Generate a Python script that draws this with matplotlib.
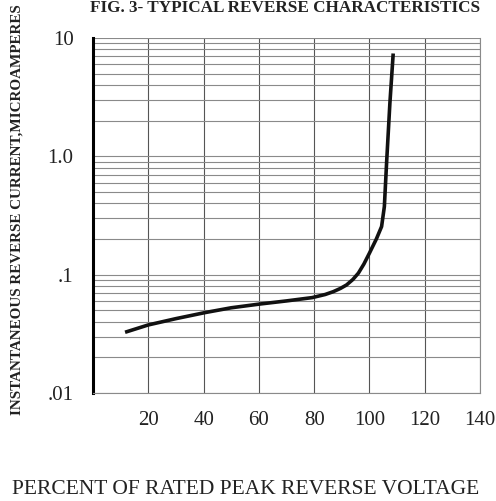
import numpy as np
import matplotlib
matplotlib.use('Agg')
import matplotlib.pyplot as plt
from matplotlib.ticker import LogLocator, NullFormatter

# Dados (percentual da tensão reversa x corrente em µA)
percent = [11.6, 20, 30, 40.5, 50, 60.4, 70, 79.3, 84, 86.9, 89.5, 91.7, 94, 96,
           98, 100, 102.5, 104.4, 105.4, 106.2, 107.4, 108.6]
current = [0.0326, 0.0376, 0.0425, 0.0478, 0.0525, 0.0565, 0.060, 0.064, 0.068,
           0.0718, 0.0765, 0.0818, 0.091, 0.103, 0.123, 0.152, 0.200, 0.255,
           0.376, 0.875, 2.81, 7.4]

x_ticks = [20, 40, 60, 80, 100, 120, 140]
y_ticks = [0.01, 0.1, 1.0, 10]
y_labels = ['.01', '.1', '1.0', '10']

plt.rcParams['font.family'] = ['Liberation Serif', 'DejaVu Serif']

fig = plt.figure(figsize=(4.96, 5.01), dpi=100)
ax = fig.add_axes([93 / 496, 1 - 393 / 501, 387 / 496, 355 / 501])

ax.set_yscale('log')
ax.set_xlim(0, 140)
ax.set_ylim(0.01, 10)

# Grade: linhas menores horizontais e verticais a cada 20
ax.yaxis.set_minor_locator(LogLocator(base=10, subs=np.arange(2, 10)))
ax.yaxis.set_minor_formatter(NullFormatter())
ax.grid(True, which='both', axis='y', color='#8a8a8a', linewidth=0.8)
ax.grid(True, which='major', axis='x', color='#555555', linewidth=0.8)

ax.set_xticks(x_ticks)
ax.set_xticklabels([str(t) for t in x_ticks])
ax.set_yticks(y_ticks)
ax.set_yticklabels(y_labels)
ax.tick_params(which='both', length=0, labelsize=15, colors='#222222')
ax.tick_params(axis='x', pad=13)
ax.tick_params(axis='y', pad=14)

ax.spines['top'].set_visible(False)
ax.spines['right'].set_color('#8a8a8a')
ax.spines['right'].set_linewidth(0.8)
ax.spines['bottom'].set_color('#8a8a8a')
ax.spines['bottom'].set_linewidth(0.8)
ax.spines['left'].set_color('black')
ax.spines['left'].set_linewidth(2.2)

ax.plot(percent, current, color='#111111', linewidth=2.6, solid_capstyle='butt')

fig.text(285 / 496, 1 - 12 / 501, 'FIG. 3- TYPICAL REVERSE CHARACTERISTICS',
         ha='center', va='baseline', fontsize=12.3, fontweight='bold', color='#222222')
fig.text(17 / 496, 1 - 415 / 501, 'INSTANTANEOUS REVERSE CURRENT,MICROAMPERES',
         rotation=90, ha='center', va='bottom', fontsize=10.9, fontweight='bold',
         color='#222222')
fig.text(12 / 496, 1 - 494 / 501, 'PERCENT OF RATED PEAK REVERSE VOLTAGE',
         ha='left', va='baseline', fontsize=15.5, color='#222222')

fig.savefig('out.png', dpi=100)
